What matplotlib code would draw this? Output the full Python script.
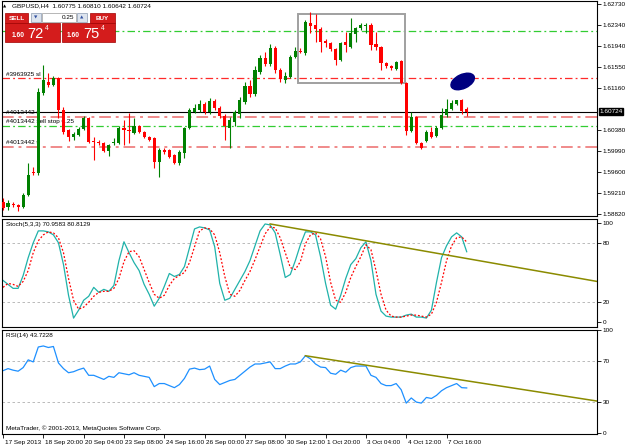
import matplotlib
matplotlib.use("Agg")
import matplotlib.pyplot as plt
from matplotlib.patches import Rectangle, Ellipse
from matplotlib.transforms import ScaledTranslation

plt.rcParams['font.family'] = ['Liberation Sans', 'DejaVu Sans']

# GBPUSD H4 candles
opens = [1.59047, 1.58954, 1.59010, 1.58991, 1.58954, 1.59177, 1.59605, 1.59586, 1.61074, 1.61279,
         1.61223, 1.61353, 1.60758, 1.60386, 1.60256, 1.60293, 1.60405, 1.60609, 1.60181, 1.60163,
         1.60144, 1.59995, 1.60144, 1.60144, 1.60423, 1.60386, 1.60330, 1.60460, 1.60349, 1.60256,
         1.60237, 1.59791, 1.60014, 1.60014, 1.59921, 1.59772, 1.59958, 1.60423, 1.60721, 1.60758,
         1.60870, 1.60721, 1.60925, 1.60795, 1.60646, 1.60423, 1.60535, 1.60684, 1.60907, 1.61204,
         1.61056, 1.61465, 1.61725, 1.61614, 1.61911, 1.61502, 1.61316, 1.61372, 1.61744, 1.61855,
         1.61818, 1.62376, 1.62339, 1.62265, 1.62041, 1.62004, 1.61893, 1.61688, 1.62023, 1.61930,
         1.62172, 1.62283, 1.62320, 1.62339, 1.61986, 1.61930, 1.61632, 1.61576, 1.61521, 1.61669,
         1.61260, 1.60367, 1.60628, 1.60144, 1.60181, 1.60349, 1.60274, 1.60423, 1.60665, 1.60777,
         1.60870, 1.60944, 1.60775]
highs = [1.59121, 1.59084, 1.59047, 1.59010, 1.59214, 1.59772, 1.59698, 1.61167, 1.61595, 1.61446,
         1.61390, 1.61372, 1.60814, 1.60405, 1.60349, 1.60442, 1.60646, 1.60628, 1.60256, 1.60200,
         1.60163, 1.60126, 1.60237, 1.60460, 1.60572, 1.60702, 1.60609, 1.60479, 1.60367, 1.60274,
         1.60256, 1.60051, 1.60051, 1.60033, 1.59940, 1.60014, 1.60442, 1.60795, 1.60870, 1.60944,
         1.60907, 1.60981, 1.60963, 1.60832, 1.60684, 1.60628, 1.60758, 1.61000, 1.61279, 1.61316,
         1.61576, 1.61781, 1.61837, 1.61986, 1.61948, 1.61539, 1.61465, 1.61781, 1.61930, 1.61911,
         1.62432, 1.62581, 1.62544, 1.62302, 1.62079, 1.62023, 1.61911, 1.62023, 1.62209, 1.62469,
         1.62302, 1.62376, 1.62376, 1.62376, 1.62209, 1.61948, 1.61651, 1.61595, 1.61669, 1.61688,
         1.61279, 1.60721, 1.60646, 1.60163, 1.60386, 1.60442, 1.60460, 1.60795, 1.60963, 1.60944,
         1.60944, 1.60963, 1.60810]
lows = [1.58898, 1.58898, 1.58954, 1.58879, 1.58935, 1.59158, 1.59549, 1.59549, 1.61037, 1.61186,
        1.61204, 1.60609, 1.60312, 1.60181, 1.60200, 1.60274, 1.60386, 1.60144, 1.59828, 1.60107,
        1.59977, 1.59902, 1.60107, 1.60126, 1.60107, 1.60144, 1.60312, 1.60330, 1.60237, 1.60181,
        1.59679, 1.59512, 1.59940, 1.59865, 1.59754, 1.59735, 1.59865, 1.60405, 1.60702, 1.60721,
        1.60684, 1.60684, 1.60758, 1.60609, 1.60200, 1.60051, 1.60460, 1.60609, 1.60870, 1.61000,
        1.61018, 1.61428, 1.61576, 1.61576, 1.61446, 1.61279, 1.61260, 1.61353, 1.61725, 1.61818,
        1.61781, 1.62190, 1.62023, 1.61837, 1.61930, 1.61855, 1.61595, 1.61669, 1.61837, 1.61911,
        1.62023, 1.62246, 1.62190, 1.61874, 1.61874, 1.61502, 1.61539, 1.61502, 1.61502, 1.61242,
        1.60293, 1.60349, 1.60126, 1.60033, 1.60163, 1.60237, 1.60256, 1.60405, 1.60628, 1.60758,
        1.60851, 1.60684, 1.60642]
closes = [1.58935, 1.59028, 1.58991, 1.58954, 1.59177, 1.59549, 1.59586, 1.61093, 1.61316, 1.61223,
          1.61353, 1.60758, 1.60349, 1.60256, 1.60312, 1.60405, 1.60609, 1.60163, 1.60163, 1.60144,
          1.59995, 1.60107, 1.60163, 1.60423, 1.60386, 1.60367, 1.60460, 1.60349, 1.60256, 1.60200,
          1.59791, 1.60014, 1.59977, 1.59884, 1.59772, 1.59977, 1.60423, 1.60758, 1.60795, 1.60870,
          1.60721, 1.60925, 1.60795, 1.60646, 1.60460, 1.60572, 1.60721, 1.60944, 1.61204, 1.61056,
          1.61502, 1.61725, 1.61614, 1.61911, 1.61502, 1.61335, 1.61390, 1.61744, 1.61855, 1.61837,
          1.62395, 1.62320, 1.62265, 1.62023, 1.62004, 1.61893, 1.61688, 1.62004, 1.61967, 1.62190,
          1.62283, 1.62339, 1.62339, 1.61967, 1.61930, 1.61632, 1.61576, 1.61539, 1.61651, 1.61260,
          1.60367, 1.60628, 1.60144, 1.60051, 1.60349, 1.60256, 1.60423, 1.60665, 1.60777, 1.60888,
          1.60944, 1.60739, 1.60724]

stoch_k = [42, 38, 34, 34, 47, 65, 80, 92, 92, 91, 88, 80, 58, 27, 4, 12, 22, 26, 35, 30,
           33, 31, 37, 62, 81, 70, 60, 52, 38, 28, 16, 24, 36, 49, 46, 48, 56, 75, 94, 96,
           95, 93, 76, 39, 22, 24, 33, 42, 51, 62, 77, 92, 99, 98, 90, 68, 45, 48, 62, 78,
           91, 91, 88, 66, 39, 17, 13, 27, 44, 58, 64, 75, 81, 62, 28, 11, 6, 5, 5, 5,
           7, 8, 5, 5, 4, 12, 40, 65, 77, 86, 90, 86, 70.96]
stoch_d = [35, 39, 38, 36, 41, 52, 70, 82, 88, 91, 90, 85, 70, 44, 22, 13, 15, 20, 26, 30,
           31, 31, 34, 44, 61, 71, 72, 66, 53, 40, 28, 24, 27, 37, 44, 47, 50, 60, 76, 92,
           95, 94, 88, 70, 46, 28, 26, 32, 42, 51, 63, 76, 89, 96, 95, 85, 70, 55, 53, 61,
           79, 88, 90, 84, 66, 40, 22, 20, 30, 45, 56, 66, 78, 73, 52, 28, 12, 6, 5, 5,
           6, 7, 7, 6, 5, 8, 20, 40, 62, 77, 85, 86, 80.81]
rsi = [60.5, 62.5, 61, 60, 63.5, 71, 69, 83.5, 84.5, 83, 84, 68, 62.5, 58.5, 59.5, 61.5, 63, 56, 56, 54,
       52, 55, 54, 58.5, 57.5, 56.5, 58.5, 56, 55, 54, 45, 48, 48, 46, 44, 47, 53, 62, 63, 61.5,
       62, 65, 52, 47, 49, 51, 52, 56, 60, 64, 67, 67, 68, 69, 62.5, 62.5, 65, 67, 67, 69,
       75, 72, 67, 64, 63.5, 58, 57, 61, 59, 63.5, 65, 65, 65, 56, 54, 48, 46, 46, 48, 42,
       29, 34, 30, 29, 34.5, 33.5, 36.5, 41, 44, 46, 48, 44, 43.72]

# trend lines drawn on the indicator windows (bar index, value)
stoch_trend_bars = [53, 117.85]
stoch_trend_vals = [99, 41]
rsi_trend_bars = [60, 117.85]
rsi_trend_vals = [75, 31]

# order lines
order_prices = [1.62230, 1.61350, 1.60630, 1.60460, 1.60070]
order_labels = ['', '#3963925 sl', '#4013442 s', '#4013442 sell stop 0.25', '#4013442 t']
order_colors = ['#32cd32', '#ff2a2a', '#f08a8a', '#32cd32', '#f08a8a']

price_ticks = [1.62730, 1.62340, 1.61940, 1.61550, 1.61160, 1.60380, 1.59990, 1.59600, 1.59210, 1.58820]
bid = 1.60724

time_ticks = [0, 8, 16, 24, 32, 40, 48, 56, 64, 72, 80, 88]
time_labels = ['17 Sep 2013', '18 Sep 20:00', '20 Sep 04:00', '23 Sep 08:00', '24 Sep 16:00',
               '26 Sep 00:00', '27 Sep 08:00', '30 Sep 12:00', '1 Oct 20:00', '3 Oct 04:00',
               '4 Oct 12:00', '7 Oct 16:00']

W, H = 625, 446
fig = plt.figure(figsize=(W / 100, H / 100), dpi=100)
fs = 4.6


def px_axes(x0, y0, x1, y1):
    return fig.add_axes([x0 / W, 1 - y1 / H, (x1 - x0) / W, (y1 - y0) / H])


ax = px_axes(2, 1, 597, 216)
ax_st = px_axes(2, 219, 597, 327)
ax_rsi = px_axes(2, 330, 597, 434)

for a in (ax, ax_st, ax_rsi):
    a.set_xlim(-0.2, 117.85)
    for s in a.spines.values():
        s.set_linewidth(0.8)
    a.yaxis.tick_right()
    a.tick_params(axis='y', length=3, width=0.6, labelsize=fs, pad=1)
    a.tick_params(axis='x', length=0, labelbottom=False)

# --- main price window ---
ax.set_ylim(1.58786, 1.62785)
for p, lab, c in zip(order_prices, order_labels, order_colors):
    lw = 1.4 if c == '#f08a8a' else 0.9
    ax.axhline(p, color=c, lw=lw, linestyle=(0, (6, 2.5, 1.5, 2.5)), zorder=1)
    if lab:
        ax.text(-0.2 + 0.7, p + 0.0003, lab, fontsize=fs, va='bottom', ha='left', zorder=1)
ax.axhline(bid, color='black', lw=0.8, zorder=1)

for i in range(len(opens)):
    o, h, l, c = opens[i], highs[i], lows[i], closes[i]
    col = '#008000' if c >= o else '#ff0000'
    ax.vlines(i, l, h, color=col, lw=0.8, zorder=3)
    ax.bar(i, max(abs(c - o), 0.00015), bottom=min(o, c), width=0.62, color=col, lw=0, zorder=3)

ax.add_patch(Rectangle((58.5, 1.61260), 21.3, 0.01284, fill=False, ec='#a0a0a0', lw=1.4, zorder=2))
ax.add_patch(Ellipse((0, 0), 0.25, 0.14, angle=25, fc='#000080', ec='#000080',
                     transform=fig.dpi_scale_trans + ScaledTranslation(91.2, 1.61288, ax.transData),
                     zorder=4))

ax.set_yticks(price_ticks)
ax.set_yticklabels(['%.5f' % p for p in price_ticks])
ax.text(1.004, bid, '%.5f' % bid, transform=ax.get_yaxis_transform(), fontsize=fs, color='white',
        va='center', ha='left', clip_on=False,
        bbox=dict(fc='black', ec='black', pad=0.6))

# --- stochastic window ---
ax_st.set_ylim(-5, 104)
bars = list(range(len(stoch_k)))
for lvl in (80, 20):
    ax_st.axhline(lvl, color='#b0b0b0', lw=0.6, linestyle=(0, (3, 3)))
ax_st.plot(bars, stoch_k, color='#20b2aa', lw=0.9)
ax_st.plot(bars, stoch_d, color='#ff0000', lw=0.9, linestyle=(0, (1.5, 1.5)))
ax_st.plot(stoch_trend_bars, stoch_trend_vals, color='#8b8b00', lw=1.1)
ax_st.set_yticks([100, 80, 20, 0])
ax_st.text(0.006, 0.975, 'Stoch(5,3,3) 70.9583 80.8129', transform=ax_st.transAxes,
           fontsize=fs, va='top', ha='left')

# --- RSI window ---
ax_rsi.set_ylim(-1, 99)
for lvl in (70, 30):
    ax_rsi.axhline(lvl, color='#b0b0b0', lw=0.6, linestyle=(0, (3, 3)))
ax_rsi.plot(bars, rsi, color='#1e90ff', lw=0.9)
ax_rsi.plot(rsi_trend_bars, rsi_trend_vals, color='#8b8b00', lw=1.1)
ax_rsi.set_yticks([100, 70, 30, 0])
ax_rsi.text(0.006, 0.975, 'RSI(14) 43.7228', transform=ax_rsi.transAxes,
            fontsize=fs, va='top', ha='left')
ax_rsi.text(0.006, 0.03, 'MetaTrader, \u00a9 2001-2013, MetaQuotes Software Corp.',
            transform=ax_rsi.transAxes, fontsize=fs, va='bottom', ha='left')
ax_rsi.set_xticks(time_ticks)
ax_rsi.set_xticklabels(time_labels)
ax_rsi.tick_params(axis='x', length=3, width=0.6, labelbottom=True, labelsize=fs, pad=1)
for t in ax_rsi.get_xticklabels():
    t.set_ha('left')
    t.set_transform(t.get_transform() + ScaledTranslation(1.5 / 100, 0, fig.dpi_scale_trans))

# --- one-click trading panel (pixel coordinates) ---
ui = fig.add_axes([0, 0, 1, 1])
ui.set_xlim(0, W)
ui.set_ylim(H, 0)
ui.axis('off')
ui.patch.set_alpha(0)

red = '#d41c1c'
ui.text(3, 6, '\u25b2', fontsize=3, va='center', ha='left', family='DejaVu Sans')
ui.text(12, 6, 'GBPUSD,H4  1.60775 1.60810 1.60642 1.60724', fontsize=fs, va='center', ha='left')
ui.add_patch(Rectangle((5, 13), 23, 10, fc=red, ec='#a00000', lw=0.5))
ui.text(16.5, 18, 'SELL', fontsize=fs, color='white', ha='center', va='center', weight='bold')
ui.add_patch(Rectangle((31, 13), 10, 9, fc='#dde4ee', ec='#8a9ab0', lw=0.5))
ui.text(36, 17.5, '\u25bc', fontsize=3.2, color='#3050a0', ha='center', va='center', family='DejaVu Sans')
ui.add_patch(Rectangle((42, 13), 34, 9, fc='white', ec='#9a9a9a', lw=0.5))
ui.text(74, 17.5, '0.25', fontsize=fs, ha='right', va='center')
ui.add_patch(Rectangle((77, 13), 10, 9, fc='#dde4ee', ec='#8a9ab0', lw=0.5))
ui.text(82, 17.5, '\u25b2', fontsize=3.2, color='#3050a0', ha='center', va='center', family='DejaVu Sans')
ui.add_patch(Rectangle((90, 13), 25, 10, fc=red, ec='#a00000', lw=0.5))
ui.text(102.5, 18, 'BUY', fontsize=fs, color='white', ha='center', va='center', weight='bold')

ui.add_patch(Rectangle((5, 23), 55, 19, fc=red, ec='#a00000', lw=0.5))
ui.text(12, 35.5, '1.60', fontsize=4.8, color='white', ha='left', va='center', weight='bold')
ui.text(27, 34, '72', fontsize=10.5, color='white', ha='left', va='center')
ui.text(45, 28.5, '4', fontsize=4.8, color='white', ha='left', va='center')
ui.add_patch(Rectangle((62, 23), 53, 19, fc=red, ec='#a00000', lw=0.5))
ui.text(67, 35.5, '1.60', fontsize=4.8, color='white', ha='left', va='center', weight='bold')
ui.text(83, 34, '75', fontsize=10.5, color='white', ha='left', va='center')
ui.text(101, 28.5, '4', fontsize=4.8, color='white', ha='left', va='center')

fig.savefig('out.png', dpi=100)
